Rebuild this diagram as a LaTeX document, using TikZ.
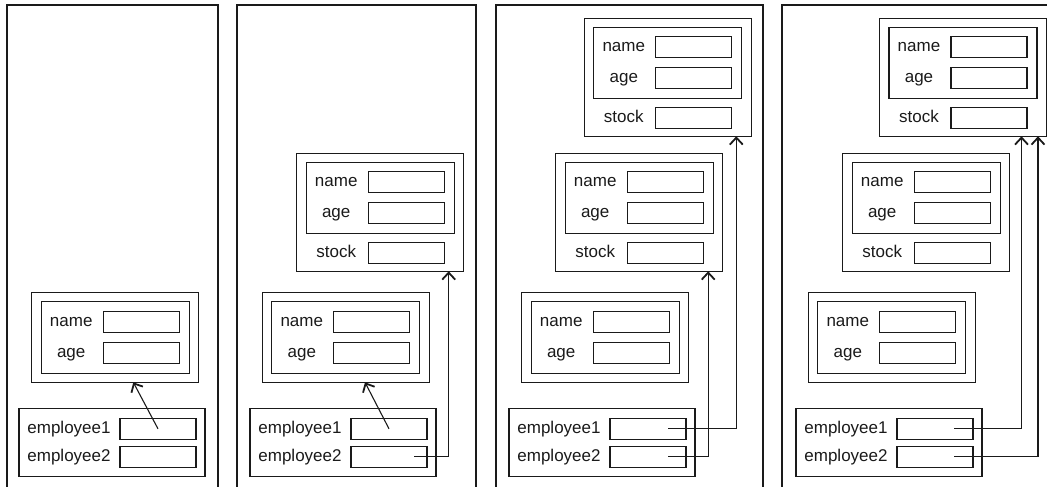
\documentclass[tikz,border=0pt]{standalone}
\usepackage{fontspec}
\setmainfont{Liberation Sans}
\usetikzlibrary{arrows.meta}
\definecolor{ink}{HTML}{1A1A1A}
\tikzset{
  box/.style={draw=ink, line width=1.3pt, anchor=north west, inner sep=0pt, outer sep=0pt},
  lbl/.style={anchor=center, inner sep=0pt, text=ink, font=\fontsize{17}{18}\selectfont, text height=12pt, text depth=3.5pt},
  arr/.style={draw=ink, line width=1.1pt, -{Straight Barb[length=7pt,width=13pt,line width=1.8pt]}},
  panel/.style={draw=ink, line width=1.3pt},
}
\newcommand\plainobj[3]{%
  \node[box, minimum width=167pt, minimum height=90pt] (#1) at (#2,#3) {};
  \node[box, minimum width=148pt, minimum height=72pt] (#1in) at (#2+9.5,#3+9) {};
  \node[box, minimum width=76pt, minimum height=21pt] (#1nf) at (#2+71.5,#3+19) {};
  \node[box, minimum width=76pt, minimum height=21pt] (#1af) at (#2+71.5,#3+50) {};
  \node[lbl] (#1nl) at (#2+39.5,#3+29.5) {name};
  \node[lbl] (#1al) at (#2+39.5,#3+60.5) {age};
}
\newcommand\stockobj[3]{%
  \node[box, minimum width=167pt, minimum height=118pt] (#1) at (#2,#3) {};
  \node[box, minimum width=148pt, minimum height=71pt] (#1in) at (#2+9.5,#3+9) {};
  \node[box, minimum width=76pt, minimum height=21pt] (#1nf) at (#2+71.5,#3+18) {};
  \node[box, minimum width=76pt, minimum height=21pt] (#1af) at (#2+71.5,#3+49) {};
  \node[box, minimum width=76pt, minimum height=21pt] (#1sf) at (#2+71.5,#3+89.5) {};
  \node[lbl] (#1nl) at (#2+39.5,#3+28.5) {name};
  \node[lbl] (#1al) at (#2+39.5,#3+59.5) {age};
  \node[lbl] (#1sl) at (#2+39.5,#3+100) {stock};
}
\newcommand\emplbox[3]{%
  \node[box, minimum width=186pt, minimum height=68pt] (#1) at (#2,#3) {};
  \node[box, minimum width=76pt, minimum height=21pt] (#1f1) at (#2+101,#3+10) {};
  \node[box, minimum width=76pt, minimum height=21pt] (#1f2) at (#2+101,#3+38) {};
  \node[lbl] (#1l1) at (#2+50,#3+20.5) {employee1};
  \node[lbl] (#1l2) at (#2+50,#3+48.5) {employee2};
}
\begin{document}
\begin{tikzpicture}[x=1pt,y=-1pt]
\useasboundingbox (0,0) rectangle (1047,487);
% panels
\draw[panel] (7,490) -- (7,5) -- (218,5) -- (218,490);
\draw[panel] (237,490) -- (237,5) -- (476,5) -- (476,490);
\draw[panel] (496,490) -- (496,5) -- (763,5) -- (763,490);
\draw[panel] (782,490) -- (782,5) -- (1050,5);
% panel 1
\plainobj{pao}{31.7}{292.3}
\emplbox{pae}{19}{408.3}
\draw[arr] (paef1.center) -- ([xshift=101.6pt]pao.south west);
% panel 2
\stockobj{pbs}{296.7}{153.3}
\plainobj{pbo}{262.3}{292.3}
\emplbox{pbe}{250}{408.3}
\draw[arr] (pbef1.center) -- ([xshift=102.7pt]pbo.south west);
\draw[arr] ([xshift=25pt]pbef2.center) -| ([xshift=-15pt]pbs.south east);
% panel 3
\stockobj{pct}{584.3}{18.3}
\stockobj{pcs}{555.7}{153.3}
\plainobj{pco}{521.7}{292.3}
\emplbox{pce}{509}{408.3}
\draw[arr] ([xshift=20pt]pcef1.center) -| ([xshift=-15pt]pct.south east);
\draw[arr] ([xshift=20pt]pcef2.center) -| ([xshift=-14.5pt]pcs.south east);
% panel 4
\stockobj{pdt}{879.5}{18.3}
\stockobj{pds}{842.7}{153.3}
\plainobj{pdo}{808.3}{292.3}
\emplbox{pde}{796}{408.3}
\draw[arr] ([xshift=19pt]pdef1.center) -| ([xshift=-25pt]pdt.south east);
\draw[arr] ([xshift=19pt]pdef2.center) -| ([xshift=-8.5pt]pdt.south east);
\end{tikzpicture}
\end{document}
